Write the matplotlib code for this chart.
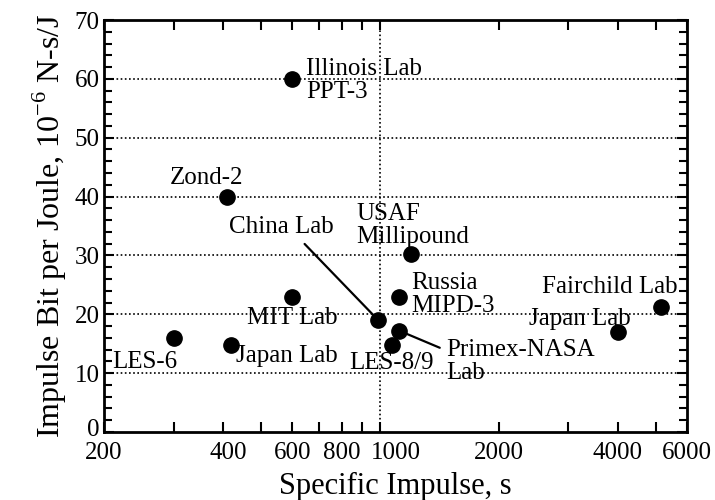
import matplotlib
matplotlib.use("Agg")
import matplotlib.pyplot as plt
import matplotlib.transforms as mtransforms
from matplotlib.ticker import MultipleLocator, NullLocator

plt.rcParams['font.family'] = ['Liberation Serif', 'DejaVu Serif']
plt.rcParams['mathtext.fontset'] = 'custom'
plt.rcParams['mathtext.rm'] = 'Liberation Serif'

# thruster data: specific impulse (s), impulse bit per joule (1e-6 N-s/J)
names = ['Illinois Lab\nPPT-3', 'Zond-2', 'China Lab', 'USAF\nMillipound', 'MIT Lab',
         'LES-6', 'Japan Lab', 'LES-8/9', 'Primex-NASA\nLab', 'Russia\nMIPD-3',
         'Japan Lab', 'Fairchild Lab']
isp = [600, 410, 990, 1200, 600, 300, 420, 1070, 1120, 1120, 4000, 5150]
ibit = [60, 40, 19, 30.2, 23, 16, 14.7, 14.8, 17.2, 23, 17, 21.2]

xtick_vals = [200, 300, 400, 500, 600, 700, 800, 900, 1000, 2000, 3000, 4000, 5000, 6000]
xtick_labels = ['200', '', '400', '', '600', '', '800', '', '1000', '2000', '', '4000', '', '6000']

# label offsets in pixels from the point, plus alignment / leader line settings
label_style = [
    dict(off=(14, -2), ha='left', line=None),
    dict(off=(-21, 19), ha='center', line=None),
    dict(off=(-97, 93), ha='center', line=(0.67, 0.0)),
    dict(off=(-55, 29), ha='left', line=None),
    dict(off=(0, -21), ha='center', line=None),
    dict(off=(-29, -24), ha='center', line=None),
    dict(off=(5, -11), ha='left', line=None),
    dict(off=(0, -18), ha='center', line=None),
    dict(off=(47, -31), ha='left', line=(0.0, 0.75)),
    dict(off=(12, 2), ha='left', line=None),
    dict(off=(-38, 13), ha='center', line=None),
    dict(off=(-51, 20), ha='center', line=None),
]

fig = plt.figure(figsize=(7.15, 5), dpi=100)
ax = fig.add_axes([0.1455, 0.136, 0.8155, 0.824])

ax.set_xscale('log')
ax.set_xlim(200, 6000)
ax.set_ylim(0, 70)

for y in range(10, 70, 10):
    ax.axhline(y, color='k', ls=(0, (1, 1.5)), lw=1.2, zorder=1)
ax.axvline(1000, color='k', ls=(0, (1, 1.5)), lw=1.2, zorder=1)

ax.plot(isp, ibit, 'o', color='k', markersize=11, zorder=3)

for i, name in enumerate(names):
    st = label_style[i]
    kw = {}
    if st['line'] is not None:
        kw['arrowprops'] = dict(arrowstyle='-', color='k', lw=1.6,
                                relpos=st['line'], shrinkA=3, shrinkB=0)
    ax.annotate(name, xy=(isp[i], ibit[i]), xytext=st['off'], textcoords='offset pixels',
                ha=st['ha'], va='center', fontsize=18, linespacing=1.05, zorder=4, **kw)

ax.set_xticks(xtick_vals)
ax.set_xticklabels(xtick_labels)
ax.xaxis.set_minor_locator(NullLocator())
ax.set_yticks(range(0, 80, 10))
ax.yaxis.set_minor_locator(MultipleLocator(2))

ax.tick_params(which='both', direction='in', top=True, right=True, width=1.5,
               labelsize=18)
ax.tick_params(axis='x', pad=7)
ax.tick_params(axis='y', pad=3)
ax.tick_params(which='major', length=7)
ax.tick_params(which='minor', length=6)
for sp in ax.spines.values():
    sp.set_linewidth(2)


def nudge(lab, dx, dy):
    lab.set_transform(lab.get_transform() +
                      mtransforms.ScaledTranslation(dx / 100, dy / 100, fig.dpi_scale_trans))


# nudge crowded labels like the original
shifts = {'400': 5, '1000': 16}
for lab in ax.get_xticklabels():
    if lab.get_text() in shifts:
        nudge(lab, shifts[lab.get_text()], 0)
for lab in ax.get_yticklabels():
    if lab.get_text() == '0':
        nudge(lab, 0, 4)

ax.set_xlabel('Specific Impulse, s', fontsize=22, labelpad=6)
ax.set_ylabel(r'Impulse Bit per Joule, 10$^{-6}$ N-s/J', fontsize=23, labelpad=4)

fig.savefig('out.png', dpi=100)
